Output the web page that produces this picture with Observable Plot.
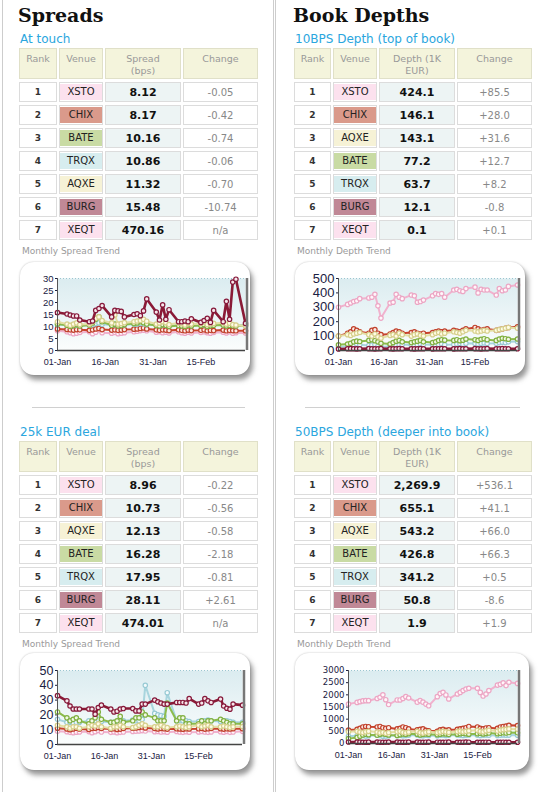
<!DOCTYPE html>
<html><head><meta charset="utf-8">
<script src="https://cdn.jsdelivr.net/npm/d3@7"></script>
<script src="https://cdn.jsdelivr.net/npm/@observablehq/plot@0.6"></script>
<style>
html,body{margin:0;padding:0;background:#fff;}
#page{position:relative;width:544px;height:792px;overflow:hidden;font-family:"DejaVu Sans",Verdana,sans-serif;background:#fff;}
.vline{position:absolute;top:0;width:1px;height:792px;background:#cdcdcd;}
.title{position:absolute;font-family:"DejaVu Serif",Georgia,serif;font-weight:bold;font-size:19px;line-height:19px;color:#111;white-space:nowrap;}
.sub{position:absolute;font-size:12px;line-height:14px;color:#2aa6de;white-space:nowrap;}
.cap{position:absolute;font-size:9px;line-height:11px;color:#9a9a9a;white-space:nowrap;}
.sep{position:absolute;height:1px;background:#d0d0d0;}
.box{position:absolute;background:#fff;border-radius:14px;box-shadow:3px 5px 5px rgba(70,70,70,.55),0 0 2px rgba(0,0,0,.25);}
.box svg{position:absolute;left:0;top:0;}
table.t{position:absolute;border-collapse:separate;border-spacing:2px 3px;table-layout:fixed;}
table.t th,table.t td{box-sizing:border-box;border:1px solid #dcdcdc;padding:0;text-align:center;}
table.t th{height:31px;background:#f4f4dc;border-color:#e0e0c8;color:#999;font-weight:normal;font-size:9.5px;line-height:12px;vertical-align:top;padding-top:4px;}
table.t td{height:20px;vertical-align:middle;}
td.rk{font-size:9px;font-weight:bold;color:#333;}
td.vn{padding:1px;}
td.vn div{height:16px;line-height:16px;font-size:10px;color:#222;}
td.val{background:#edf4f4;font-size:11px;font-weight:bold;color:#111;}
td.chg{font-size:10px;color:#888;}
</style>
</head><body>
<div id="page">
  <div class="vline" style="left:2px"></div>
  <div class="vline" style="left:273px"></div>
  <div class="vline" style="left:275px"></div>
  <div class="title" style="left:18px;top:6px">Spreads</div>
  <div class="title" style="left:293px;top:6px">Book Depths</div>
  <div class="sub" style="left:20px;top:32px">At touch</div>
  <div class="sub" style="left:295px;top:32px">10BPS Depth (top of book)</div>
  <div class="cap" style="left:22px;top:246px">Monthly Spread Trend</div>
  <div class="cap" style="left:297px;top:246px">Monthly Depth Trend</div>
  <div class="sep" style="left:32px;top:407px;width:213px"></div>
  <div class="sep" style="left:305px;top:407px;width:215px"></div>
  <div class="sub" style="left:20px;top:425px">25k EUR deal</div>
  <div class="sub" style="left:295px;top:425px">50BPS Depth (deeper into book)</div>
  <div class="cap" style="left:22px;top:639px">Monthly Spread Trend</div>
  <div class="cap" style="left:297px;top:639px">Monthly Depth Trend</div>
  <div class="box" id="c1" style="left:20px;top:262px;width:230px;height:113px"></div>
  <div class="box" id="c2" style="left:295px;top:262px;width:230px;height:113px"></div>
  <div class="box" id="c3" style="left:20px;top:653px;width:230px;height:117px"></div>
  <div class="box" id="c4" style="left:295px;top:653px;width:234px;height:117px"></div>
</div>
<script>
// ---------- table data ----------
const venuesTouch = ["XSTO","CHIX","BATE","TRQX","AQXE","BURG","XEQT"];
const spreadTouch = [8.12, 8.17, 10.16, 10.86, 11.32, 15.48, 470.16];
const changeTouch = [-0.05, -0.42, -0.74, -0.06, -0.70, -10.74, null];

const venues10 = ["XSTO","CHIX","AQXE","BATE","TRQX","BURG","XEQT"];
const depth10 = [424.1, 146.1, 143.1, 77.2, 63.7, 12.1, 0.1];
const change10 = [85.5, 28.0, 31.6, 12.7, 8.2, -0.8, 0.1];

const venues25 = ["XSTO","CHIX","AQXE","BATE","TRQX","BURG","XEQT"];
const spread25 = [8.96, 10.73, 12.13, 16.28, 17.95, 28.11, 474.01];
const change25 = [-0.22, -0.56, -0.58, -2.18, -0.81, 2.61, null];

const venues50 = ["XSTO","CHIX","AQXE","BATE","TRQX","BURG","XEQT"];
const depth50 = [2269.9, 655.1, 543.2, 426.8, 341.2, 50.8, 1.9];
const change50 = [536.1, 41.1, 66.0, 66.3, 0.5, -8.6, 1.9];

const headSpread = ["Rank","Venue","Spread<br>(bps)","Change"];
const headDepth = ["Rank","Venue","Depth (1K<br>EUR)","Change"];

// ---------- trend data ----------
const dates = ["2010-01-01","2010-01-04","2010-01-05","2010-01-06","2010-01-07","2010-01-08","2010-01-11","2010-01-12","2010-01-13","2010-01-14","2010-01-15","2010-01-18","2010-01-19","2010-01-20","2010-01-21","2010-01-22","2010-01-25","2010-01-26","2010-01-27","2010-01-28","2010-01-29","2010-02-01","2010-02-02","2010-02-03","2010-02-04","2010-02-05","2010-02-08","2010-02-09","2010-02-10","2010-02-11","2010-02-12","2010-02-15","2010-02-16","2010-02-17","2010-02-18","2010-02-19","2010-02-22","2010-02-23","2010-02-24","2010-02-25","2010-02-26","2010-03-01"];
const xTickDates = ["2010-01-01","2010-01-16","2010-01-31","2010-02-15"];

const touchXSTO = [8.2,7.8,7.4,7.0,7.2,7.5, 7.8,7.0,7.6,8.6,7.4, 7.2,7.5,7.0,7.2,7.4, 7.8,8.0,8.3,8.5,8.2, 7.6,7.8,7.4,7.6,7.3, 7.8,7.4,7.2,7.6,7.3, 7.5,7.8,7.4,7.2,7.5, 7.6,7.3,7.8,7.2,7.4,7.3];
const touchCHIX = [9.0,8.8,8.6,8.5,8.7,8.6, 8.4,8.6,9.0,9.2,8.7, 8.5,8.6,8.4,8.5,8.7, 8.9,9.0,9.2,9.4,9.0, 8.6,8.4,8.6,8.5,8.3, 8.6,8.4,8.2,8.5,8.3, 8.4,8.6,8.2,8.4,8.3, 8.5,8.2,8.4,8.3,8.2,8.2];
const touchTRQX = [10.8,10.5,10.2,10.4,10.6,10.3, 10.5,10.8,11.2,11.5,10.9, 10.6,10.8,10.4,10.5,10.7, 10.9,11.0,11.3,11.1,10.8, 10.5,10.4,10.7,10.6,10.3, 10.5,10.4,10.2,10.6,10.4, 10.5,10.8,10.3,10.5,10.6, 10.7,10.4,10.6,10.5,10.4,10.6];
const touchBATE = [11.0,10.5,10.0,10.4,10.8,10.2, 10.6,11.5,13.0,14.0,12.0, 10.5,11.0,10.2,10.4,10.8, 11.2,11.5,12.0,11.6,11.0, 10.4,10.2,10.8,10.5,10.0, 10.4,10.2,10.0,10.6,10.2, 10.4,10.8,10.0,10.3,10.5, 10.6,10.2,10.5,10.3,10.2,10.4];
const touchAQXE = [12.0,11.0,10.5,11.0,11.5,10.8, 11.0,12.0,13.4,14.0,12.5, 11.5,14.8,11.0,11.2,11.6, 12.0,12.3,12.5,13.0,12.2, 11.0,11.5,12.0,11.6,10.8, 11.5,11.2,10.6,11.4,11.0, 11.2,11.8,10.8,11.0,11.3, 11.6,11.0,11.4,10.8,10.6,10.2];
const touchBURG = [15.8,15.2,14.8,14.4,14.4,12.7, 12.0,12.3,16.7,17.5,18.7, 14.0,16.7,16.5,16.3,14.0, 15.0,15.3,14.5,16.5,21.5, 16.0,12.7,19.0,13.0,17.0, 12.0,12.0,12.3,12.0,13.2, 11.7,12.5,13.4,11.7,16.7, 12.0,20.5,13.0,28.5,29.7,11.3];

const d10XSTO = [300,320,330,340,345,360, 365,370,390,310,225, 330,335,390,370,360, 385,380,335,340,350, 380,395,390,395,370, 420,425,415,410,430, 440,400,425,420,420, 385,430,415,420,445,455];
const d10CHIX = [100,120,130,150,140,130, 120,140,145,120,110, 115,125,135,130,120, 125,130,120,115,120, 125,130,135,130,135, 140,135,130,140,150, 160,150,140,145,150, 140,145,150,155,160,165];
const d10TRQX = [25,30,35,40,45,40, 35,38,42,30,25, 30,38,35,40,42, 38,35,40,45,42, 40,38,42,45,40, 42,45,48,44,50, 48,45,50,52,48, 50,55,58,55,60,62];
const d10BATE = [40,45,50,60,65,62, 70,75,68,60,50, 45,55,65,70,60, 55,60,65,70,60, 55,60,70,75,72, 70,75,68,72,80, 75,70,78,82,75, 70,80,85,82,78,80];
const d10AQXE = [100,110,105,115,120,125, 110,100,115,95,85, 105,110,100,120,110, 100,110,115,105,100, 110,120,125,115,120, 130,125,120,130,140, 135,130,135,140,135, 140,145,150,155,160,155];
const d10BURG = [10,12,13,12,11,12, 13,12,11,12,13, 12,11,12,13,12, 12,11,12,13,12, 11,12,12,13,12, 11,12,13,12,12, 13,12,11,12,13, 12,12,13,12,12,12];

const k25XSTO = [9,8.6,8.2,8,8.3,8.5, 8.7,8,8.6,9.5,8.4, 8.2,8.5,8,8.2,8.4, 8.8,9,9.2,9.4,9.1, 8.6,8.8,8.4,8.6,8.3, 8.8,8.4,8.2,8.6,8.3, 8.5,8.8,8.4,8.2,8.5, 8.6,8.3,8.8,8.2,8.4,8.9];
const k25CHIX = [11,10.5,10,10.5,11,10.5, 10.2,10.8,11,11.5,10.8, 10.5,10.6,10.2,10.4,10.8, 11,11.2,11.5,11.8,11.2, 10.8,10.5,10.8,10.6,10.4, 10.6,10.5,10.3,10.7,10.5, 10.6,10.9,10.4,10.6,10.8, 10.7,10.4,10.6,10.5,10.7,10.7];
const k25TRQX = [17,15,15,14.5,15,15, 16,15,16,17,15.5, 15,15,15.5,16,16, 16.5,16,16,17,40, 21,20,19.5,19,35, 16,16.5,16,16,15.5, 15.5,16,16,16.5,16, 15.5,16,16,15.5,15,15];
const k25BATE = [22,18,16,17,18,16, 14,16,18,22,17, 15,15,16,19,15, 16,18,18,22,20, 18,16,16,16,28, 16,18,18,14,14, 14,16,14,16,16, 17,16,15,14,14,14];
const k25AQXE = [13,12,11,12,12,11, 12,13,12.5,14,12, 11,12,12,13,12, 11.5,12,13,14,13, 12,12,13,12,11.5, 12,12.5,12,11.5,12, 13,12,12.5,13,12, 12,12.5,12,11.5,12,12.1];
const k25BURG = [33,29.5,26,24,24,24, 24,24,20.5,25,26.6, 24,22,22.5,24,24.3, 24.3,22.7,22.7,27.3,27.3, 30,28.9,28,27.3,27.3, 28.4,28.4,28.4,28,31, 27.3,28,31,29.5,28.4, 30.7,26,24.5,23.9,27.3,26.6];

const d50XSTO = [1620,1690,1720,1750,1760,1760, 1850,1900,2000,1800,1600, 1790,1790,1850,1925,1870, 1700,1760,1700,1620,1550, 1925,2050,2105,1995,1830, 2035,2100,2173,2240,2270, 2270,2100,1950,2035,2173, 2400,2430,2490,2380,2517,2470];
const d50CHIX = [550,580,620,680,700,690, 680,700,650,620,650, 600,620,680,650,600, 560,580,600,540,520, 500,560,580,540,560, 580,600,620,650,700, 680,620,600,640,650, 620,680,700,720,750,740];
const d50TRQX = [300,320,340,330,310,320, 340,330,300,310,320, 330,340,320,330,340, 350,330,320,340,330, 320,340,350,330,340, 350,340,330,340,350, 340,330,340,350,340, 330,340,350,340,345,341];
const d50BATE = [200,250,300,350,380,360, 340,380,400,380,350, 330,360,390,370,400, 380,350,370,390,380, 360,380,400,390,370, 380,400,420,400,380, 400,420,390,410,430, 400,420,440,430,450,440];
const d50AQXE = [480,500,470,450,480,500, 470,440,460,420,450, 480,500,460,440,470, 500,450,430,460,480, 450,470,500,480,460, 490,510,480,500,520, 540,500,480,520,540, 510,550,570,580,600,590];
const d50BURG = [60,55,58,52,50,55, 58,54,50,52,56, 55,52,50,54,57, 55,52,50,53,56, 54,52,50,53,55, 52,50,54,56,53, 51,50,52,54,52, 50,51,53,52,51,51];

const yTicks1 = [0,5,10,15,20,25,30];
const yTicks2 = [0,100,200,300,400,500];
const yTicks3 = [0,10,20,30,40,50];
const yTicks4 = [0,500,1000,1500,2000,2500,3000];

// ---------- styles ----------
const venueBg = {XSTO:"#fce1ee", CHIX:"#da9a8b", BATE:"#c9dba4", TRQX:"#d7edef", AQXE:"#f6f2d6", BURG:"#c08896", XEQT:"#fce1ee"};
const lineColor = {XSTO:"#f1b2ce", CHIX:"#c8432c", TRQX:"#a8d5de", BATE:"#8cbb4c", AQXE:"#e5dfa4", BURG:"#8a1a36"};
const markFill = {XSTO:"#fff6fa", CHIX:"#fbe9e4", TRQX:"#f4fbfc", BATE:"#f1f8e6", AQXE:"#fffce6", BURG:"#f6e6ea"};
const markStroke = {XSTO:"#eca6c4", CHIX:"#c0402a", TRQX:"#98cad4", BATE:"#80b040", AQXE:"#d6cf8c", BURG:"#86183a"};
const order = ["XSTO","CHIX","TRQX","BATE","AQXE","BURG"];

const page = document.getElementById("page");
const fmt2 = v => v.toFixed(2);
const fmtDepth = d3.format(",.1f");
const fmtC2 = v => (v > 0 ? "+" : "") + v.toFixed(2);
const fmtC1 = v => (v > 0 ? "+" : "") + v.toFixed(1);

function buildTable(left, top, rankW, heads, venues, vals, chg, fmtV, fmtC) {
  const t = document.createElement("table");
  t.className = "t";
  const widths = [rankW, 44, 76, 75];
  t.style.left = left + "px";
  t.style.top = top + "px";
  t.style.width = (d3.sum(widths) + 10) + "px";
  let html = "<colgroup>" + widths.map(w => `<col style="width:${w}px">`).join("") + "</colgroup>";
  html += "<tr>" + heads.map(h => `<th>${h}</th>`).join("") + "</tr>";
  venues.forEach((v, i) => {
    html += `<tr><td class="rk">${i + 1}</td><td class="vn"><div style="background:${venueBg[v]}">${v}</div></td>` +
      `<td class="val">${fmtV(vals[i])}</td><td class="chg">${chg[i] == null ? "n/a" : fmtC(chg[i])}</td></tr>`;
  });
  t.innerHTML = html;
  page.appendChild(t);
}

buildTable(17, 45, 38, headSpread, venuesTouch, spreadTouch, changeTouch, fmt2, fmtC2);
buildTable(292, 45, 37, headDepth, venues10, depth10, change10, fmtDepth, fmtC1);
buildTable(17, 438, 38, headSpread, venues25, spread25, change25, fmt2, fmtC2);
buildTable(292, 438, 37, headDepth, venues50, depth50, change50, fmtDepth, fmtC1);

const parse = s => new Date(s + "T00:00:00Z");
const dateObjs = dates.map(parse);
const xTicks = xTickDates.map(parse);
const xStart = parse("2010-01-01"), xEnd = parse("2010-03-01");

function chart(id, series, yTicks, w, h, ml, mr, mt, mb, yFont, yFamily) {
  const yMax = yTicks[yTicks.length - 1];
  const marks = [
    Plot.frame({fill: `url(#grad-${id})`, stroke: "none"}),
    Plot.ruleY([yMax], {stroke: "#9cc6d0", strokeDasharray: "1,2"})
  ];
  order.forEach(s => {
    const rows = series[s].map((v, i) => ({d: dateObjs[i], v}));
    marks.push(Plot.line(rows, {x: "d", y: "v", stroke: lineColor[s], strokeWidth: s === "BURG" ? 2.6 : 2}));
    marks.push(Plot.dot(rows, {x: "d", y: "v", r: 2.2, fill: markFill[s], stroke: markStroke[s], strokeWidth: 1.2}));
  });
  marks.push(Plot.ruleX([xStart], {stroke: "#555"}));
  marks.push(Plot.ruleX([xEnd], {stroke: "#777", strokeWidth: 2.5, dx: 1.5}));
  marks.push(Plot.ruleY([0], {stroke: "#444", strokeWidth: 1.5}));
  const svg = Plot.plot({
    width: w, height: h,
    marginLeft: ml, marginRight: mr, marginTop: mt, marginBottom: mb,
    style: {fontFamily: "'Liberation Sans', Arial, sans-serif", fontSize: "9px", color: "#1a2142", background: "transparent", overflow: "visible"},
    x: {type: "utc", domain: [xStart, xEnd], ticks: xTicks, tickFormat: d3.utcFormat("%d-%b"), tickSize: 0, tickPadding: 8, label: null},
    y: {domain: [0, yMax], ticks: yTicks, tickFormat: d3.format("d"), tickSize: 2, tickPadding: 2, label: null},
    marks
  });
  const s = d3.select(svg);
  const g = s.insert("defs", ":first-child").append("linearGradient")
    .attr("id", `grad-${id}`).attr("x1", 0).attr("y1", 0).attr("x2", 0).attr("y2", 1);
  g.append("stop").attr("offset", "0%").attr("stop-color", "#dbecf0");
  g.append("stop").attr("offset", "100%").attr("stop-color", "#fbfdfd");
  s.selectAll('[aria-label^="y-axis"] text').style("font-size", yFont).style("font-family", yFamily);
  document.getElementById(id).appendChild(svg);
}

chart("c1", {XSTO: touchXSTO, CHIX: touchCHIX, TRQX: touchTRQX, BATE: touchBATE, AQXE: touchAQXE, BURG: touchBURG},
  yTicks1, 230, 113, 37, 5, 16, 25, "9.5px", "'Liberation Sans', Arial");
chart("c2", {XSTO: d10XSTO, CHIX: d10CHIX, TRQX: d10TRQX, BATE: d10BATE, AQXE: d10AQXE, BURG: d10BURG},
  yTicks2, 230, 113, 43, 8, 16, 25, "13px", "'Liberation Sans', Arial");
chart("c3", {XSTO: k25XSTO, CHIX: k25CHIX, TRQX: k25TRQX, BATE: k25BATE, AQXE: k25AQXE, BURG: k25BURG},
  yTicks3, 230, 117, 37, 8, 17, 26, "12.5px", "'Liberation Sans', Arial");
chart("c4", {XSTO: d50XSTO, CHIX: d50CHIX, TRQX: d50TRQX, BATE: d50BATE, AQXE: d50AQXE, BURG: d50BURG},
  yTicks4, 234, 117, 53, 12, 17, 27, "8.5px", "'DejaVu Sans', Verdana");
</script>
</body></html>
